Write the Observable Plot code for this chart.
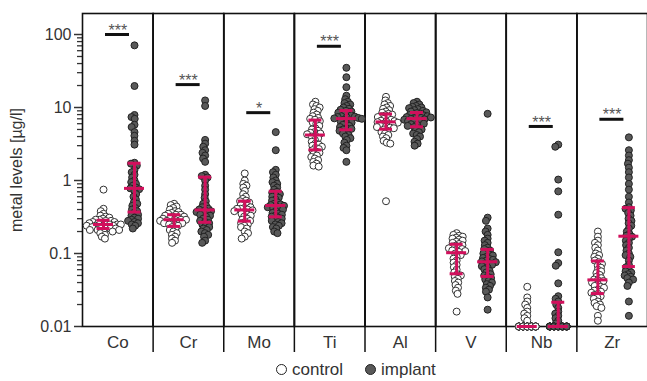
<!DOCTYPE html>
<html><head><meta charset="utf-8">
<script src="https://cdn.jsdelivr.net/npm/d3@7"></script>
<script src="https://cdn.jsdelivr.net/npm/@observablehq/plot@0.6"></script>
<style>
body{margin:0;background:#fff;font-family:"Liberation Sans",Arial,sans-serif;}
#chart svg{display:block;}
#legend{height:23px;display:flex;align-items:center;padding-left:276px;font-size:17px;color:#333;}
.sw{display:inline-block;width:9px;height:9px;border-radius:50%;border:1.4px solid #222;margin-right:5px;}
.sw.c{background:#fff;}
.sw.i{background:#595959;margin-left:22px;}
</style></head>
<body>
<div id="chart"></div>
<div id="legend"><span class="sw c"></span><span>control</span><span class="sw i"></span><span>implant</span></div>
<script>
const metals = ["Co","Cr","Mo","Ti","Al","V","Nb","Zr"];
const groups = ["control","implant"];
const yTicks = [0.01, 0.1, 1, 10, 100];
const lod = 0.01;

const coControl = [0.75,0.41,0.38,0.35,0.33,0.32,0.31,0.30,0.29,0.29,0.28,0.28,0.27,0.27,0.26,0.26,0.26,0.25,0.25,0.25,0.25,0.24,0.24,0.24,0.23,0.23,0.23,0.22,0.22,0.22,0.21,0.21,0.21,0.20,0.20,0.19,0.18,0.17,0.16];
const coImplant = [71,19.7,7.9,7.4,7.0,5.8,5.4,4.6,4.1,3.5,3.1,1.75,1.7,1.6,1.4,1.3,1.2,1.1,1.0,0.95,0.9,0.85,0.8,0.78,0.76,0.72,0.65,0.6,0.55,0.5,0.48,0.45,0.42,0.4,0.38,0.36,0.34,0.33,0.31,0.3,0.29,0.28,0.27,0.26,0.25,0.24,0.22];
const crControl = [0.48,0.46,0.44,0.42,0.40,0.38,0.37,0.36,0.35,0.34,0.34,0.33,0.32,0.32,0.31,0.30,0.30,0.29,0.29,0.29,0.28,0.28,0.27,0.27,0.26,0.26,0.25,0.25,0.24,0.23,0.22,0.21,0.20,0.19,0.18,0.17,0.16,0.15,0.14];
const crImplant = [12.5,10.5,3.6,3.2,2.9,2.6,2.4,2.2,2.0,1.8,1.2,1.15,1.1,1.0,0.85,0.75,0.65,0.58,0.52,0.48,0.45,0.43,0.41,0.40,0.39,0.38,0.37,0.36,0.35,0.34,0.33,0.32,0.30,0.29,0.28,0.27,0.26,0.25,0.24,0.23,0.22,0.21,0.20,0.19,0.18,0.17,0.15,0.14];
const moControl = [1.25,1.0,0.9,0.85,0.8,0.72,0.65,0.6,0.56,0.53,0.52,0.5,0.48,0.46,0.45,0.43,0.42,0.41,0.41,0.40,0.39,0.38,0.37,0.35,0.34,0.33,0.32,0.30,0.29,0.28,0.27,0.26,0.25,0.24,0.23,0.22,0.2,0.19,0.17,0.16];
const moImplant = [4.6,2.6,1.4,1.3,1.2,1.1,1.0,0.95,0.9,0.85,0.8,0.75,0.7,0.68,0.65,0.62,0.6,0.58,0.55,0.53,0.5,0.48,0.47,0.46,0.45,0.44,0.43,0.42,0.41,0.4,0.38,0.36,0.35,0.34,0.33,0.32,0.31,0.3,0.29,0.28,0.27,0.26,0.25,0.24,0.23,0.22,0.2,0.19];
const tiControl = [12,11,10.5,10,9.5,9,8.5,8,7.6,7.2,7,6.8,6.5,6.2,6,5.6,5.2,5,4.8,4.6,4.5,4.4,4.3,4.1,4,3.8,3.6,3.4,3.2,3.1,3,2.9,2.8,2.7,2.6,2.5,2.4,2.3,2.2,2.1,2,1.9,1.8,1.7,1.6,1.55];
const tiImplant = [35,26,19,14.5,13,12,11.5,11,10.5,10,9.6,9.3,9,8.8,8.5,8.2,8,7.8,7.6,7.5,7.4,7.3,7.2,7.1,7,6.8,6.6,6.4,6.2,6,5.8,5.6,5.4,5.2,5.1,5,4.8,4.6,4.4,4.2,4,3.8,3.6,3.3,3,2.8,2.6,1.8];
const alControl = [14,12.5,11.5,11,10.5,10,9.6,9.2,8.8,8.5,8.2,8,7.8,7.6,7.4,7.2,7,6.8,6.6,6.5,6.4,6.3,6.2,6,5.9,5.8,5.6,5.5,5.4,5.3,5.2,5,4.8,4.6,4.4,4.2,4,3.8,3.5,3.3,3.2,0.52];
const alImplant = [12,11.5,11,10.5,10.2,10,9.8,9.5,9.2,9,8.8,8.6,8.4,8.2,8,7.9,7.8,7.6,7.5,7.4,7.3,7.2,7.1,7,6.9,6.8,6.6,6.5,6.3,6.2,6,5.9,5.8,5.6,5.4,5.2,5,4.8,4.6,4.4,4.2,4,3.7,3.4,3.2,3.0];
const vControl = [0.19,0.18,0.175,0.17,0.165,0.16,0.155,0.15,0.145,0.14,0.135,0.13,0.128,0.125,0.12,0.118,0.115,0.112,0.11,0.108,0.105,0.1,0.095,0.09,0.085,0.08,0.075,0.07,0.065,0.06,0.055,0.052,0.05,0.048,0.045,0.042,0.04,0.037,0.034,0.031,0.028,0.016];
const vImplant = [8.2,0.31,0.28,0.22,0.2,0.18,0.16,0.15,0.14,0.13,0.12,0.115,0.11,0.105,0.1,0.097,0.094,0.09,0.087,0.084,0.082,0.08,0.078,0.076,0.074,0.072,0.07,0.067,0.064,0.061,0.058,0.055,0.052,0.05,0.048,0.046,0.044,0.042,0.04,0.038,0.036,0.034,0.032,0.03,0.025,0.017];
const nbControl = [0.035,0.025,0.022,0.02,0.018,0.016,0.015,0.014,0.013,0.012,0.01,0.01,0.01,0.01,0.01,0.01,0.01,0.01,0.01,0.01,0.01,0.01,0.01,0.01,0.01,0.01,0.01,0.01,0.01,0.01,0.01,0.01,0.01,0.01,0.01,0.01,0.01,0.01,0.01,0.01,0.01,0.01,0.01,0.01];
const nbImplant = [3.1,2.9,1.03,0.71,0.34,0.104,0.074,0.068,0.039,0.026,0.024,0.022,0.02,0.018,0.016,0.015,0.014,0.013,0.012,0.011,0.01,0.01,0.01,0.01,0.01,0.01,0.01,0.01,0.01,0.01,0.01,0.01,0.01,0.01,0.01,0.01,0.01,0.01,0.01,0.01,0.01,0.01,0.01,0.01,0.01,0.01];
const zrControl = [0.2,0.17,0.15,0.14,0.13,0.12,0.11,0.1,0.095,0.09,0.085,0.08,0.076,0.072,0.068,0.064,0.06,0.057,0.054,0.051,0.048,0.046,0.044,0.043,0.042,0.04,0.038,0.036,0.035,0.034,0.032,0.031,0.03,0.029,0.028,0.027,0.026,0.025,0.024,0.022,0.021,0.02,0.019,0.018,0.014,0.012];
const zrImplant = [3.9,2.6,2.2,1.9,1.7,1.5,1.3,1.1,0.9,0.75,0.6,0.5,0.43,0.41,0.39,0.36,0.33,0.3,0.28,0.26,0.24,0.22,0.2,0.185,0.175,0.17,0.16,0.15,0.14,0.13,0.12,0.11,0.1,0.095,0.09,0.08,0.07,0.065,0.06,0.057,0.055,0.052,0.05,0.048,0.046,0.044,0.04,0.036,0.022,0.014];

const sigMetals = ["Co","Cr","Mo","Ti","Nb","Zr"];
const sigLevels = [100, 20.6, 8.5, 69, 5.5, 6.9];
const sigStars = ["***","***","*","***","***","***"];

const series = {
  Co: [coControl, coImplant], Cr: [crControl, crImplant], Mo: [moControl, moImplant],
  Ti: [tiControl, tiImplant], Al: [alControl, alImplant], V: [vControl, vImplant],
  Nb: [nbControl, nbImplant], Zr: [zrControl, zrImplant]
};

const points = [];
const stats = [];
for (const m of metals) {
  groups.forEach((g, gi) => {
    const vals = series[m][gi];
    vals.forEach(v => points.push({metal: m, group: g, value: v}));
    const s = vals.slice().sort(d3.ascending);
    stats.push({metal: m, group: g, median: d3.quantileSorted(s, 0.5), q1: d3.quantileSorted(s, 0.25), q3: d3.quantileSorted(s, 0.75)});
  });
}
const sig = sigMetals.map((m, i) => ({metal: m, level: sigLevels[i], stars: sigStars[i]}));

const minorTicks = [];
for (const t of yTicks) for (let k = 2; k <= 9; k++) if (t * k < 190) minorTicks.push(t * k);

const W = (647 - 82) / 8;
const magenta = "#d1105c";
const look = {
  control: {fill: "#ffffff", stroke: "#333333", dx: -14.3},
  implant: {fill: "#595959", stroke: "#222222", dx: 16.7}
};
const R = 3.5;

// every group is placed relative to the centre of its facet, shifted by its dx
function swarm(group) {
  const data = points.filter(d => d.group === group && d.value > lod);
  return Plot.dot(data, Plot.dodgeX({
    anchor: "middle", fx: "metal", y: "value", r: R, padding: -3.35,
    dx: look[group].dx, fill: look[group].fill, stroke: look[group].stroke, strokeWidth: 1
  }));
}
// values at the detection limit: an overlapping row of dots
const lodSlots = [-2, -1, 0, 1, 2];
function lodRow(group) {
  const data = points.filter(d => d.group === group && d.value <= lod);
  return lodSlots.map((s, k) => Plot.dot(data.filter((d, i) => i % lodSlots.length === k), {
    fx: "metal", y: "value", r: R, dx: look[group].dx + s * 4.2,
    fill: look[group].fill, stroke: look[group].stroke, strokeWidth: 1
  }));
}
function errorBars(group) {
  const data = stats.filter(d => d.group === group);
  const dx = look[group].dx;
  const span = half => ({insetLeft: W / 2 + dx - half, insetRight: W / 2 - dx - half});
  return [
    Plot.ruleX(data, {fx: "metal", x: null, y1: "q1", y2: "q3", dx, stroke: magenta, strokeWidth: 3}),
    Plot.tickY(data, {fx: "metal", y: "q1", ...span(6.5), stroke: magenta, strokeWidth: 3}),
    Plot.tickY(data, {fx: "metal", y: "q3", ...span(6.5), stroke: magenta, strokeWidth: 3}),
    Plot.tickY(data, {fx: "metal", y: "median", ...span(10), stroke: magenta, strokeWidth: 3})
  ];
}

const chart = Plot.plot({
  width: 647, height: 358,
  marginLeft: 82, marginRight: 0, marginTop: 13, marginBottom: 32,
  style: {fontFamily: "Liberation Sans, Arial, sans-serif", color: "#333"},
  fx: {domain: metals, padding: 0, round: false},
  y: {type: "log", domain: [0.01, 194]},
  marks: [
    Plot.axisY({ticks: minorTicks, tickSize: 5, tickFormat: () => "", label: null, strokeWidth: 1.3}),
    Plot.axisY({ticks: yTicks, tickSize: 8, tickPadding: 3, fontSize: 16, strokeWidth: 1.5,
      tickFormat: d => String(d), label: "metal levels [µg/l]", labelAnchor: "center", labelArrow: "none", labelOffset: 72}),
    Plot.axisFx({anchor: "bottom", tickSize: 0, tickPadding: 9, fontSize: 17, label: null}),
    Plot.ruleX(metals.slice(1), {fx: d => d, x: null, dx: -W / 2, insetBottom: -26, stroke: "#111", strokeWidth: 1.5}),
    Plot.frame({stroke: "#111", strokeWidth: 1.6}),
    swarm("control"), lodRow("control"),
    swarm("implant"), lodRow("implant"),
    errorBars("control"), errorBars("implant"),
    Plot.tickY(sig, {fx: "metal", y: "level", insetLeft: 23, insetRight: 23.6, stroke: "#111", strokeWidth: 3}),
    Plot.text(sig, {fx: "metal", y: "level", text: "stars", dy: -4, fontSize: 16, fill: "#555"})
  ]
});
document.getElementById("chart").appendChild(chart);
</script>
</body></html>
